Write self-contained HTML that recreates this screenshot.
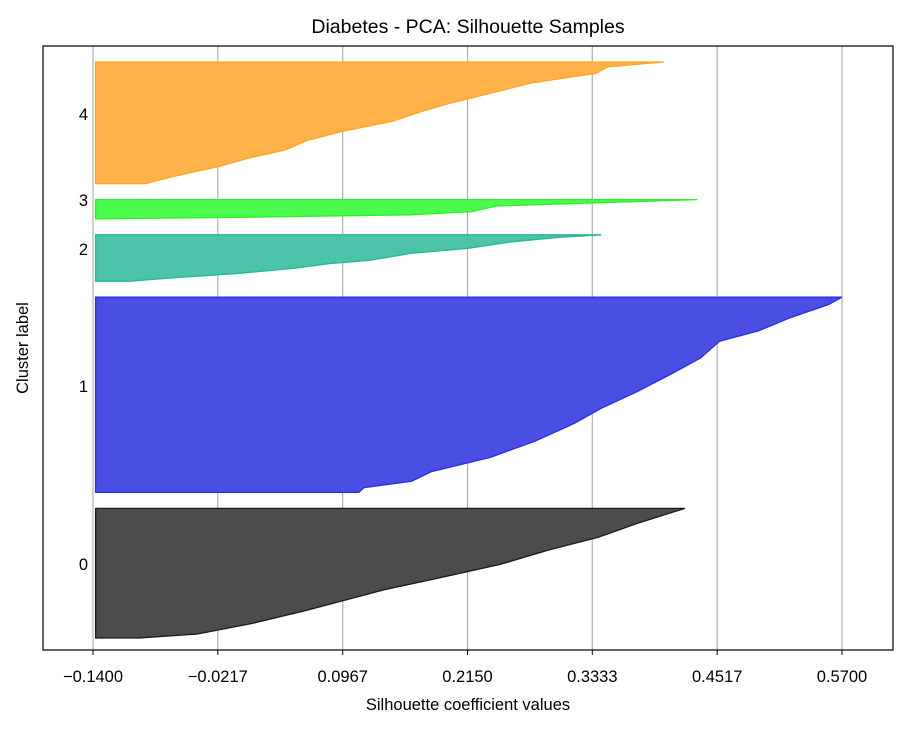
<!DOCTYPE html>
<html><head><meta charset="utf-8"><style>
body{margin:0;background:#fff;}
svg text{font-family:"Liberation Sans","DejaVu Sans",sans-serif;fill:#000;}
</style></head><body>
<svg id="chart" width="912" height="730" xmlns="http://www.w3.org/2000/svg">
<rect width="912" height="730" fill="#fff"/>
<g id="grid"></g><g id="fills"></g><g id="axes"></g>
</svg>
<script>
const xTicks=[-0.14,-0.0217,0.0967,0.215,0.3333,0.4517,0.57];
const xTickLabels=["\u22120.1400","\u22120.0217","0.0967","0.2150","0.3333","0.4517","0.5700"];
const clusterLabels=["0","1","2","3","4"];
const clusterSizes=[81,122,29,12,76];
const c0Ranks=[0,9.4,18,26,35,43,51,57.5,64,72,78.5,81];
const c0Values=[0.421,0.376,0.339,0.292,0.246,0.191,0.135,0.098,0.061,0.010,-0.041,-0.096];
const c1Ranks=[0,4.6,13,21,27.5,38,48,59,69,79,90,100,109,115,119,122];
const c1Values=[0.570,0.557,0.520,0.491,0.454,0.436,0.408,0.376,0.343,0.316,0.279,0.237,0.181,0.162,0.117,0.112];
const c2Ranks=[0,1.5,4.4,8.5,11.7,16,18,21,24,27,29];
const c2Values=[0.342,0.303,0.257,0.215,0.160,0.122,0.084,0.050,0.000,-0.067,-0.105];
const c3Ranks=[0,4,7.5,9.5,11,12];
const c3Values=[0.433,0.242,0.219,0.160,0.008,-0.135];
const c4Ranks=[0,3,7,13,20,26,31,37,43,49,55,60,65,72,76];
const c4Values=[0.401,0.348,0.337,0.276,0.234,0.197,0.171,0.144,0.099,0.063,0.042,0.008,-0.019,-0.067,-0.090];
const ranks=[c0Ranks,c1Ranks,c2Ranks,c3Ranks,c4Ranks];
const values=[c0Values,c1Values,c2Values,c3Values,c4Values];
const fillColors=["#4c4c4c","#4a4ee3","#4cc4aa","#4cfc4c","#ffb24a"];
const edgeColors=["#1a1a1a","#2a2ee0","#2ab596","#2af02a","#ffa526"];

const L=43,R=893,T=46,B=650;
const xMin=-0.14,xMax=0.57,pxMin=93,pxMax=842;
const yMin=2.5,yMax=380;
const baseVal=-0.1375;
function X(v){return pxMin+(v-xMin)*(pxMax-pxMin)/(xMax-xMin);}
function Y(v){return B-(v-yMin)*(B-T)/(yMax-yMin);}
const NS="http://www.w3.org/2000/svg";
function mk(tag,attrs,parent){const e=document.createElementNS(NS,tag);for(const k in attrs)e.setAttribute(k,attrs[k]);parent.appendChild(e);return e;}
const grid=document.getElementById('grid'),fills=document.getElementById('fills'),axes=document.getElementById('axes');

xTicks.forEach((t,i)=>{
  const g=mk('line',{x1:X(t),x2:X(t),y1:T,y2:B,stroke:'#b0b0b0','stroke-width':1.2},grid);
  
  
  const tk=mk('line',{x1:X(t),x2:X(t),y1:B,y2:B+5,stroke:'#000','stroke-width':1},axes);
  
  
  const tl=mk('text',{x:X(t),y:B+32,'text-anchor':'middle','font-size':16.5},axes);
  tl.textContent=xTickLabels[i];
  
  
});

let yLower=10;
clusterSizes.forEach((n,c)=>{
  const top=yLower+n;
  const rk=ranks[c],vals=values[c];
  let d='M'+X(baseVal)+','+Y(top);
  for(let i=0;i<rk.length;i++){d+=' L'+X(vals[i]).toFixed(1)+','+Y(top-rk[i]).toFixed(1);}
  d+=' L'+X(baseVal)+','+Y(yLower)+' Z';
  const p=mk('path',{d:d,fill:fillColors[c],stroke:edgeColors[c],'stroke-width':1.3},fills);
  
  
  const lb=mk('text',{x:88,y:Y(yLower+n*0.5)-3,'text-anchor':'end','font-size':16.5},axes);
  lb.textContent=clusterLabels[c];
  
  
  yLower=top+10;
});

const fr=mk('rect',{x:L,y:T,width:R-L,height:B-T,fill:'none',stroke:'#000','stroke-width':1.2},axes);


const title=mk('text',{x:(L+R)/2,y:33,'text-anchor':'middle','font-size':19.5},axes);
title.textContent='Diabetes - PCA: Silhouette Samples';


const xl=mk('text',{x:(L+R)/2,y:710,'text-anchor':'middle','font-size':16.5},axes);
xl.textContent='Silhouette coefficient values';


const yl=mk('text',{x:0,y:0,'text-anchor':'middle','font-size':16.5,transform:'translate(28,'+((T+B)/2)+') rotate(-90)'},axes);
yl.textContent='Cluster label';


</script>
</body></html>
